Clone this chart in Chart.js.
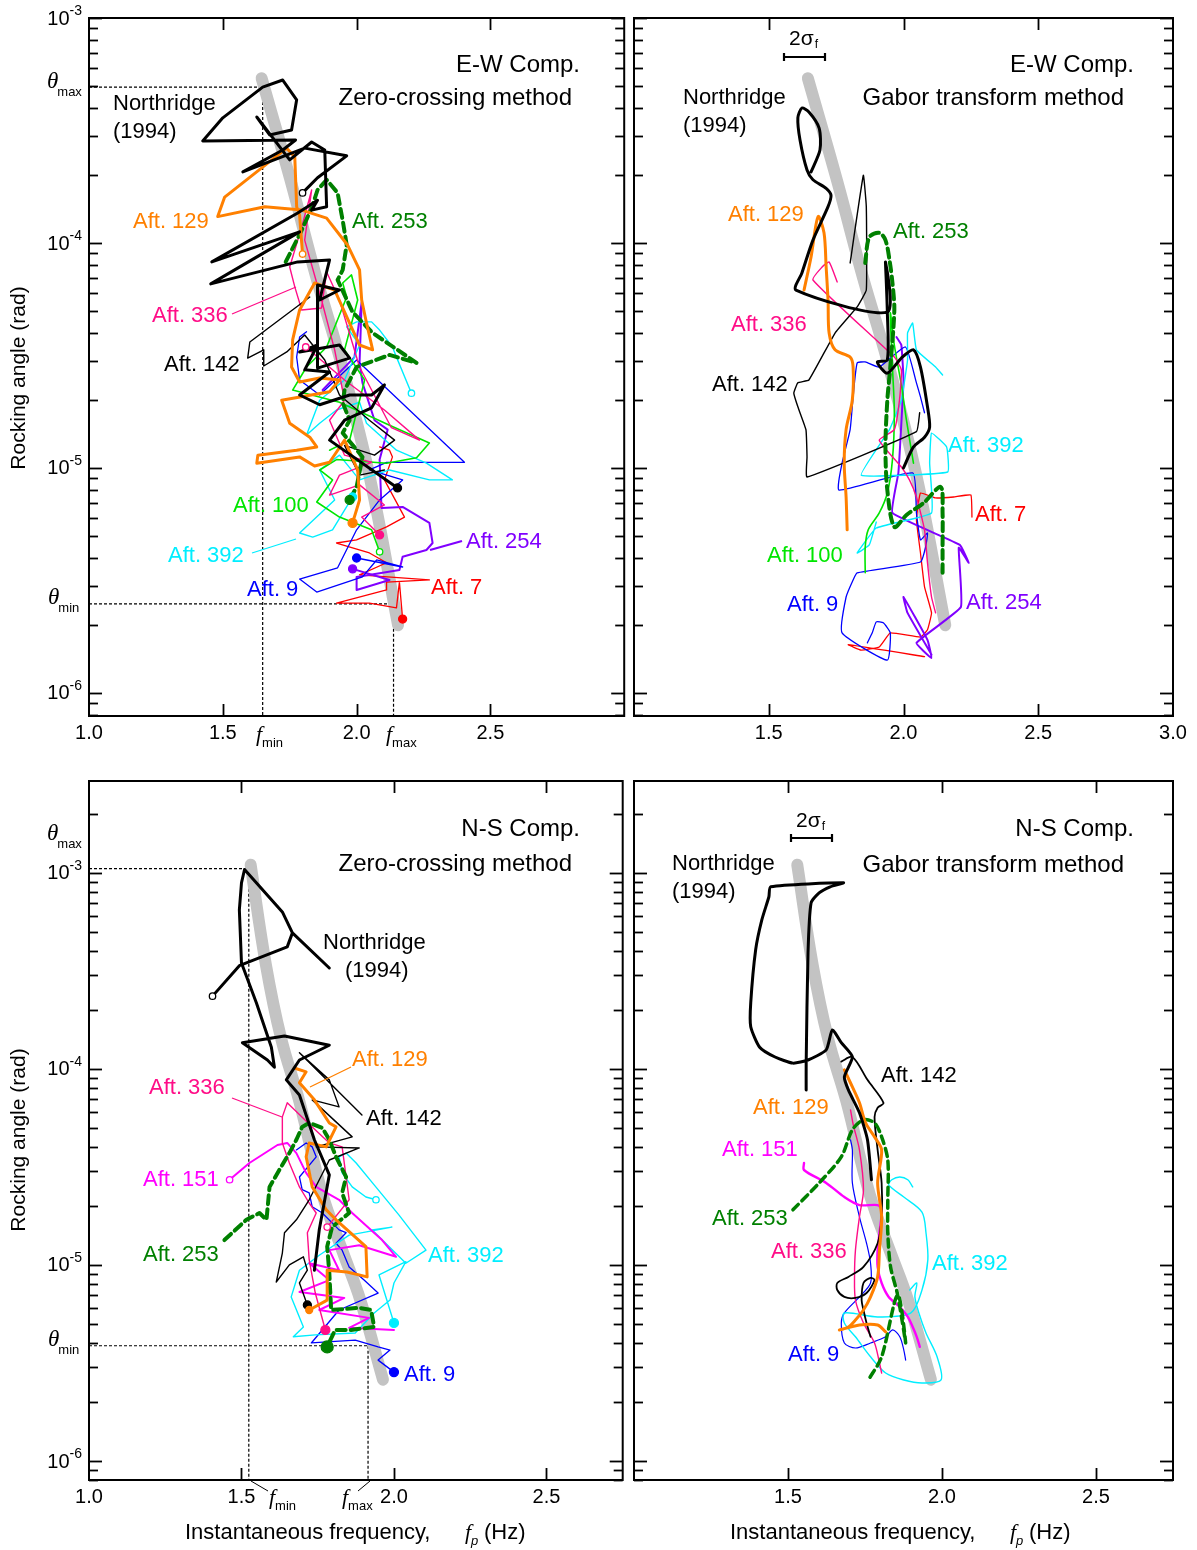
<!DOCTYPE html>
<html><head><meta charset="utf-8">
<script src="https://cdn.jsdelivr.net/npm/chart.js@4.4.0/dist/chart.umd.min.js"></script>
<style>
html,body{margin:0;padding:0;background:#fff;}
#wrap{position:relative;width:1197px;height:1550px;overflow:hidden;background:#fff;}
canvas{position:absolute;}
</style></head><body><div id="wrap">
<canvas id="c1" width="630" height="770" style="left:0px;top:0px;width:630px;height:770px"></canvas>
<canvas id="c2" width="567" height="770" style="left:630px;top:0px;width:567px;height:770px"></canvas>
<canvas id="c3" width="630" height="780" style="left:0px;top:770px;width:630px;height:780px"></canvas>
<canvas id="c4" width="567" height="780" style="left:630px;top:770px;width:567px;height:780px"></canvas>
</div>
<script>
// ===================== DATA (frequency Hz, rocking angle rad) =====================
const grayTop = [[1.645,5.4e-4],[1.75,1.96e-4],[1.85,7.0e-5],[1.94,3.0e-5],[2.05,9.0e-6],[2.155,2.0e-6]];
const grayBottom = [[1.53,1.1e-3],[1.58,3.4e-4],[1.63,1.43e-4],[1.69,6.8e-5],[1.765,2.3e-5],[1.83,1.19e-5],[1.89,6.6e-6],[1.964,2.6e-6]];

// E-W, zero-crossing
const ew_zc_northridge = [[1.798,1.67e-4],[1.854,1.95e-4],[1.963,2.44e-4],[1.806,2.64e-4],[1.575,2.07e-4],[1.724,2.59e-4],[1.772,2.87e-4],[1.425,2.84e-4],[1.5,3.6e-4],[1.649,4.93e-4],[1.724,5.3e-4],[1.776,4.33e-4],[1.757,3.18e-4],[1.675,3.02e-4],[1.627,3.63e-4],[1.75,2.34e-4],[1.832,2.81e-4],[1.881,2.59e-4],[1.888,1.45e-4],[1.832,1.4e-4],[1.854,1.55e-4],[1.78,1.36e-4],[1.459,8.24e-5],[1.787,1.12e-4],[1.455,6.58e-5],[1.78,8.24e-5],[1.899,8.41e-5],[1.862,5.58e-5],[1.936,6.18e-5],[1.854,6.5e-5],[1.854,2.78e-5],[1.974,3.08e-5],[1.936,3.52e-5],[1.787,3.28e-5],[1.854,3.52e-5],[1.806,2.73e-5],[1.899,2.67e-5],[1.787,2.11e-5],[1.862,1.91e-5],[1.974,2.11e-5],[2.056,2.11e-5],[2.104,2.34e-5],[2.056,1.85e-5],[1.955,1.63e-5],[1.899,1.33e-5],[2.153,8.15e-6]];
const ew_zc_a129 = [[1.798,8.93e-5],[1.787,1.33e-4],[1.776,1.45e-4],[1.769,2.41e-4],[1.739,2.64e-4],[1.507,1.6e-4],[1.481,1.31e-4],[1.657,1.45e-4],[1.795,1.4e-4],[1.888,1.29e-4],[1.966,9.8e-5],[2.011,7.59e-5],[2.019,5.58e-5],[2.037,4.41e-5],[2.06,3.35e-5],[2.011,3.52e-5],[1.918,6.18e-5],[1.843,6.64e-5],[1.787,5.04e-5],[1.761,3.71e-5],[1.757,2.81e-5],[1.787,2.41e-5],[1.862,2.51e-5],[1.936,2.46e-5],[1.899,2.18e-5],[1.72,2.0e-5],[1.75,1.58e-5],[1.825,1.37e-5],[1.851,1.24e-5],[1.776,1.2e-5],[1.631,1.14e-5],[1.627,1.05e-5],[1.787,1.12e-5],[1.843,1.02e-5],[1.899,1.06e-5],[1.955,1.33e-5],[2.004,9.8e-6],[2.011,7.21e-6],[1.985,5.7e-6]];
const ew_zc_a253 = [[1.735,8.24e-5],[1.787,1.09e-4],[1.832,1.43e-4],[1.854,1.72e-4],[1.888,1.91e-4],[1.929,1.67e-4],[1.948,1.26e-4],[1.963,9.8e-5],[1.948,7.59e-5],[1.929,6.85e-5],[1.985,4.93e-5],[2.06,3.98e-5],[2.153,3.35e-5],[2.224,2.93e-5],[2.123,3.18e-5],[2.0,2.81e-5],[1.955,2.22e-5],[1.948,1.95e-5],[1.974,1.63e-5],[1.948,1.43e-5],[2.022,1.12e-5],[2.0,8.24e-6],[1.974,7.21e-6]];
const ew_zc_a336 = [[1.81,3.45e-5],[1.955,2.46e-5],[2.104,1.81e-5],[2.235,1.33e-5],[2.13,1.51e-5],[2.011,2.81e-5],[1.936,5.58e-5],[1.888,7.43e-5],[1.869,5.14e-5],[1.795,5.04e-5],[1.769,6.38e-5],[1.75,7.82e-5],[1.795,1.18e-4],[1.832,1.72e-4],[1.806,1.03e-4],[1.869,5.58e-5],[1.918,3.35e-5],[1.955,2.0e-5],[1.899,1.63e-5],[1.955,1.14e-5],[2.056,1.06e-5],[1.936,9.3e-6],[1.899,7.58e-6],[2.011,8.41e-6],[2.104,6.85e-6],[2.019,6.05e-6],[2.086,5.04e-6]];
const ew_zc_a142 = [[1.825,5.75e-5],[1.601,3.63e-5],[1.593,3.08e-5],[1.653,3.35e-5],[1.653,2.84e-5],[1.739,3.28e-5],[1.806,3.9e-5],[1.881,3.02e-5],[1.936,2.11e-5],[2.048,1.63e-5],[2.142,1.33e-5],[2.067,1.14e-5],[1.955,1.26e-5],[2.011,9.3e-6],[2.104,9.8e-6]];
const ew_zc_a100 = [[2.086,4.24e-6],[2.056,5.31e-6],[1.936,6.05e-6],[1.851,7.06e-6],[1.91,8.85e-6],[1.862,9.8e-6],[1.925,1.09e-5],[2.112,1.05e-5],[2.224,1.11e-5],[2.272,1.29e-5],[2.123,1.55e-5],[1.936,1.96e-5],[1.761,2.22e-5],[1.813,2.81e-5],[1.888,3.45e-5],[1.963,5.75e-5],[1.948,6.64e-5],[1.981,7.21e-5],[2.004,5.58e-5],[1.955,3.35e-5],[2.03,2.46e-5],[1.974,1.33e-5],[1.899,1.2e-5]];
const ew_zc_a392 = [[2.205,2.15e-5],[2.149,3.11e-5],[2.134,3.45e-5],[2.086,4.1e-5],[2.056,4.46e-5],[2.0,4.46e-5],[1.963,4.24e-5],[2.011,3.52e-5],[1.955,2.46e-5],[1.862,2.0e-5],[1.813,1.4e-5],[1.862,1.58e-5],[1.925,1.81e-5],[2.011,1.96e-5],[2.037,1.58e-5],[2.149,1.2e-5],[2.261,1.05e-5],[2.358,8.85e-6],[2.272,8.85e-6],[2.123,9.8e-6],[2.011,8.85e-6],[1.936,1.14e-5],[1.862,9.8e-6],[1.918,7.21e-6],[1.787,5.14e-6],[1.836,4.93e-6],[1.91,5.31e-6],[1.955,6.5e-6],[1.985,7.43e-6]];
const ew_zc_a9 = [[1.813,4.03e-5],[1.787,3.82e-5],[1.776,3.11e-5],[1.787,2.46e-5],[1.862,2.11e-5],[2.0,3.02e-5],[2.403,1.06e-5],[2.112,1.06e-5],[2.048,9.8e-6],[2.172,8.85e-6],[2.086,7.21e-6],[2.0,5.31e-6],[1.929,3.6e-6],[1.787,3.21e-6],[1.851,2.81e-6],[2.022,3.28e-6],[2.075,3.9e-6],[2.172,3.63e-6],[2.0,3.98e-6]];
const ew_zc_a254 = [[1.873,2.22e-5],[1.992,3.11e-5],[2.019,5.47e-5],[2.011,2.93e-5],[2.022,2.39e-5],[2.067,1.63e-5],[2.116,1.48e-5],[2.086,1.09e-5],[2.093,6.64e-6],[2.172,6.71e-6],[2.272,5.7e-6],[2.284,4.64e-6],[2.261,4.32e-6],[2.172,4.03e-6],[2.16,3.52e-6],[2.0,3.28e-6],[2.0,2.87e-6],[2.123,3.18e-6],[1.985,3.56e-6]];
const ew_zc_a7 = [[2.086,1.24e-5],[2.123,1.2e-5],[2.134,1.12e-5],[2.104,8.85e-6],[2.179,6.05e-6],[2.112,5.47e-6],[2.0,4.79e-6],[1.925,4.64e-6],[2.048,4.19e-6],[2.112,3.79e-6],[2.011,3.35e-6],[2.272,3.18e-6],[2.112,3.11e-6],[2.112,2.87e-6],[1.925,2.51e-6],[2.048,2.51e-6],[2.149,2.39e-6],[2.16,3.11e-6],[2.172,2.13e-6]];

// E-W, Gabor transform
const ew_gb_northridge = [[2.0,1.0e-5],[2.037,1.24e-5],[2.078,1.37e-5],[2.097,1.52e-5],[2.089,1.87e-5],[2.063,2.81e-5],[2.037,3.35e-5],[1.992,3.08e-5],[1.94,2.64e-5],[1.903,2.96e-5],[1.94,3.02e-5],[1.94,4.93e-5],[1.933,8.24e-5],[1.94,4.93e-5],[1.601,6.18e-5],[1.623,7.36e-5],[1.664,1.03e-4],[1.72,1.45e-4],[1.731,1.63e-4],[1.713,1.75e-4],[1.664,1.91e-4],[1.642,2.11e-4],[1.616,2.87e-4],[1.608,3.6e-4],[1.623,3.98e-4],[1.649,3.82e-4],[1.687,3.24e-4],[1.69,2.59e-4],[1.657,2.07e-4]];
const ew_gb_a142 = [[1.802,8.15e-5],[1.851,2.0e-4],[1.862,1.45e-4],[1.862,6.18e-5],[1.828,5.2e-5],[1.746,3.98e-5],[1.649,2.46e-5],[1.608,2.39e-5],[1.593,2.15e-5],[1.608,1.87e-5],[1.638,1.48e-5],[1.642,1.12e-5],[1.642,9.12e-6],[2.048,1.45e-5],[2.06,1.76e-5]];
const ew_gb_a129 = [[1.631,6.18e-5],[1.657,8.67e-5],[1.683,1.31e-4],[1.705,1.11e-4],[1.713,7.82e-5],[1.72,5.58e-5],[1.724,3.98e-5],[1.746,3.35e-5],[1.802,3.11e-5],[1.813,2.81e-5],[1.81,2.0e-5],[1.787,1.48e-5],[1.78,1.05e-5],[1.787,7.43e-6],[1.791,5.31e-6]];
const ew_gb_a253 = [[1.858,8.15e-5],[1.873,1.06e-4],[1.91,1.11e-4],[1.933,1.03e-4],[1.948,8.41e-5],[1.959,6.64e-5],[1.966,5.04e-5],[1.951,2.81e-5],[1.94,2.0e-5],[1.933,1.24e-5],[1.94,7.98e-6],[1.966,5.47e-6],[2.011,6.18e-6],[2.075,7.0e-6],[2.138,8.24e-6],[2.145,6.31e-6],[2.145,4.46e-6],[2.145,3.42e-6]];
const ew_gb_a336 = [[1.754,6.71e-5],[1.724,8.24e-5],[1.698,7.82e-5],[1.664,6.85e-5],[1.966,3.11e-5],[1.992,2.73e-5],[1.985,2.0e-5],[1.966,1.48e-5],[1.91,1.33e-5],[1.992,1.01e-5],[2.022,8.85e-6],[2.048,7.43e-6],[2.078,5.31e-6],[2.089,3.79e-6],[2.104,2.67e-6],[2.119,2.27e-6]];
const ew_gb_a100 = [[2.037,1.05e-5],[2.011,1.63e-5],[1.992,2.34e-5],[1.966,3.52e-5],[1.951,4.89e-5],[1.959,2.81e-5],[1.966,1.76e-5],[1.959,1.09e-5],[1.94,7.74e-6],[1.91,6.31e-6],[1.869,5.31e-6],[1.858,4.46e-6],[1.858,3.42e-6]];
const ew_gb_a392 = [[2.145,2.59e-5],[2.119,2.81e-5],[2.048,3.35e-5],[2.034,4.41e-5],[2.015,3.98e-5],[2.015,3.02e-5],[1.992,2.0e-5],[1.948,1.48e-5],[1.843,9.3e-6],[2.164,9.6e-6],[2.16,1.24e-5],[2.104,1.43e-5],[2.097,1.05e-5],[2.104,6.31e-6],[1.899,5.41e-6],[1.828,4.19e-6],[1.873,4.55e-6],[1.899,5.75e-6]];
const ew_gb_a9 = [[2.078,1.76e-5],[2.063,2.07e-5],[2.048,2.39e-5],[2.007,3.45e-5],[1.91,2.81e-5],[1.858,2.96e-5],[1.828,2.93e-5],[1.813,2.07e-5],[1.802,1.48e-5],[1.772,1.05e-5],[1.761,7.98e-6],[2.034,9.5e-6],[2.048,6.31e-6],[2.063,4.79e-6],[2.089,5.14e-6],[2.082,4.46e-6],[2.063,3.82e-6],[1.828,3.42e-6],[1.813,3.18e-6],[1.787,2.67e-6],[1.772,1.85e-6],[1.94,1.4e-6],[1.951,1.85e-6],[1.925,2.05e-6],[1.899,2.07e-6],[1.884,1.85e-6],[1.866,1.67e-6]];
const ew_gb_a254 = [[1.974,3.82e-5],[1.992,3.52e-5],[2.0,2.46e-5],[1.992,1.58e-5],[1.981,9.5e-6],[1.959,6.31e-6],[2.209,4.55e-6],[2.242,3.79e-6],[2.205,4.42e-6],[2.213,2.41e-6],[2.048,1.67e-6],[2.104,1.43e-6],[2.089,1.72e-6],[2.0,2.67e-6],[2.015,2.27e-6],[2.104,1.48e-6]];
const ew_gb_a7 = [[2.254,6.05e-6],[2.25,7.58e-6],[2.186,7.43e-6],[2.119,7.36e-6],[2.063,7.74e-6],[2.048,5.88e-6],[2.063,4.19e-6],[2.078,2.96e-6],[2.104,2.27e-6],[2.089,1.91e-6],[2.063,1.77e-6],[1.951,1.85e-6],[1.91,1.6e-6],[1.843,1.55e-6],[1.795,1.64e-6],[2.078,1.45e-6]];

// N-S, zero-crossing
const ns_zc_northridge = [[1.405,2.35e-4],[1.493,3.36e-4],[1.65,4.19e-4],[1.667,4.94e-4],[1.788,3.27e-4],[1.667,4.94e-4],[1.634,6.32e-4],[1.51,1.04e-3],[1.5,8.89e-4],[1.493,6.47e-4],[1.5,3.47e-4],[1.549,2.17e-4],[1.598,1.29e-4],[1.608,1.02e-4],[1.585,1.11e-4],[1.503,1.36e-4],[1.641,1.47e-4],[1.788,1.32e-4],[1.69,1.11e-4],[1.647,8.79e-5],[1.69,7.36e-5],[1.739,4.35e-5],[1.788,2.88e-5],[1.755,1.51e-5],[1.739,9.4e-6]];
const ns_zc_a142 = [[1.895,5.82e-5],[1.69,1.21e-4],[1.788,8.79e-5],[1.82,6.4e-5],[1.732,6.95e-5],[1.863,4.5e-5],[1.745,4.0e-5],[1.886,3.95e-5],[1.788,3.43e-5],[1.722,2.15e-5],[1.68,1.7e-5],[1.641,1.46e-5],[1.634,1.15e-5],[1.614,8.18e-6],[1.657,1.0e-5],[1.703,1.1e-5],[1.716,9.4e-6],[1.69,8.09e-6],[1.716,6.25e-6]];
const ns_zc_a129 = [[1.673,1.01e-4],[1.712,9.66e-5],[1.69,8.49e-5],[1.739,6.95e-5],[1.788,5.3e-5],[1.81,5.06e-5],[1.778,4.0e-5],[1.722,4.19e-5],[1.712,3.56e-5],[1.732,2.5e-5],[1.778,1.91e-5],[1.81,1.7e-5],[1.908,1.24e-5],[1.912,8.69e-6],[1.846,9.2e-6],[1.781,9.4e-6],[1.781,6.62e-6],[1.722,5.89e-6]];
const ns_zc_a253 = [[1.444,1.34e-5],[1.516,1.7e-5],[1.559,1.84e-5],[1.582,1.7e-5],[1.592,2.5e-5],[1.624,3.05e-5],[1.657,3.72e-5],[1.68,4.35e-5],[1.699,5.06e-5],[1.722,5.3e-5],[1.765,5.0e-5],[1.788,4.35e-5],[1.81,3.56e-5],[1.843,2.81e-5],[1.83,2.33e-5],[1.853,1.84e-5],[1.797,1.56e-5],[1.781,1.24e-5],[1.788,9.1e-6],[1.794,5.89e-6],[1.886,6.04e-6],[1.925,5.89e-6],[1.935,4.83e-6],[1.859,4.66e-6],[1.807,4.66e-6],[1.781,3.82e-6]];
const ns_zc_a336 = [[1.781,1.56e-5],[1.853,2.15e-5],[1.83,4.0e-5],[1.788,4.19e-5],[1.732,5.06e-5],[1.65,6.71e-5],[1.634,5.69e-5],[1.634,4.19e-5],[1.657,3.31e-5],[1.69,2.5e-5],[1.722,2.07e-5],[1.745,1.84e-5],[1.716,1.46e-5],[1.722,1.06e-5],[1.742,7.19e-6],[1.775,4.66e-6]];
const ns_zc_a151 = [[1.461,2.72e-5],[1.526,3.31e-5],[1.618,4.09e-5],[1.65,4.19e-5],[1.68,3.72e-5],[1.712,2.95e-5],[1.745,2.5e-5],[1.82,2.15e-5],[1.863,1.84e-5],[1.961,1.34e-5],[2.007,1.1e-5],[1.886,1.26e-5],[1.788,1.19e-5],[1.82,9.4e-6],[1.722,1.02e-5],[1.788,8.37e-6],[1.69,7.28e-6],[1.837,6.79e-6],[1.755,5.89e-6],[1.918,5.37e-6],[1.853,4.78e-6],[2.0,4.66e-6]];
const ns_zc_a392 = [[1.941,2.15e-5],[1.908,2.22e-5],[1.863,2.5e-5],[1.83,2.95e-5],[1.82,3.56e-5],[1.843,3.72e-5],[1.876,3.31e-5],[1.935,2.56e-5],[2.016,1.8e-5],[2.105,1.19e-5],[2.039,1.02e-5],[1.928,1.51e-5],[1.993,1.56e-5],[1.853,1.42e-5],[1.755,1.12e-5],[1.69,9.4e-6],[1.663,6.87e-6],[1.703,4.83e-6],[1.67,4.3e-6],[1.742,4.4e-6],[1.873,4.5e-6],[1.935,5.69e-6],[1.987,6.62e-6],[2.0,8.09e-6],[2.039,1.04e-5],[1.951,8.89e-6],[2.0,5.06e-6]];
const ns_zc_a9 = [[1.68,3.86e-5],[1.712,4.19e-5],[1.732,4.0e-5],[1.745,3.56e-5],[1.69,2.81e-5],[1.699,2.42e-5],[1.722,2.33e-5],[1.732,1.98e-5],[1.765,1.84e-5],[1.82,1.51e-5],[1.843,1.46e-5],[1.81,1.29e-5],[1.83,1.19e-5],[1.853,9.77e-6],[1.902,8.37e-6],[1.948,7.19e-6],[1.82,5.89e-6],[1.729,4.0e-6],[1.873,4.14e-6],[1.948,3.82e-6],[1.987,3.68e-6],[1.948,3.27e-6],[2.0,2.84e-6]];

// N-S, Gabor transform
const ns_gb_northridge = [[1.559,7.81e-5],[1.559,1.07e-4],[1.565,3.91e-4],[1.575,7.03e-4],[1.601,7.9e-4],[1.637,8.49e-4],[1.68,8.89e-4],[1.444,8.49e-4],[1.438,7.55e-4],[1.415,5.75e-4],[1.395,4.05e-4],[1.379,2.17e-4],[1.379,1.64e-4],[1.408,1.29e-4],[1.458,1.15e-4],[1.516,1.07e-4],[1.565,1.11e-4],[1.624,1.25e-4],[1.644,1.58e-4],[1.673,1.36e-4],[1.709,1.15e-4],[1.683,9.1e-5],[1.696,7.81e-5],[1.732,5.97e-5],[1.758,4.35e-5],[1.771,2.72e-5]];
const ns_gb_a142 = [[1.673,1.09e-4],[1.709,1.15e-4],[1.758,8.79e-5],[1.81,6.71e-5],[1.791,6.33e-5],[1.781,5.69e-5],[1.791,3.86e-5],[1.804,2.62e-5],[1.804,1.76e-5],[1.791,1.29e-5],[1.745,9.77e-6],[1.696,8.69e-6],[1.66,8.09e-6],[1.66,7.45e-6],[1.683,6.87e-6],[1.719,6.79e-6],[1.755,7.19e-6],[1.781,8.37e-6],[1.768,8.59e-6],[1.745,8.09e-6],[1.739,6.62e-6],[1.745,5.89e-6],[1.755,5.06e-6],[1.768,4.3e-6]];
const ns_gb_a129 = [[1.683,9.88e-5],[1.709,8.09e-5],[1.732,6.71e-5],[1.752,5.3e-5],[1.781,4.5e-5],[1.804,3.86e-5],[1.791,2.62e-5],[1.804,1.76e-5],[1.797,1.19e-5],[1.791,8.69e-6],[1.768,6.87e-6],[1.745,5.89e-6],[1.719,5.24e-6],[1.696,4.83e-6],[1.667,4.66e-6],[1.732,4.94e-6],[1.791,4.94e-6],[1.817,4.55e-6]];
const ns_gb_a253 = [[1.516,1.91e-5],[1.601,2.62e-5],[1.673,3.56e-5],[1.709,4.89e-5],[1.745,5.5e-5],[1.781,5.3e-5],[1.804,4.5e-5],[1.824,3.43e-5],[1.824,2.15e-5],[1.824,1.46e-5],[1.833,9.77e-6],[1.856,7.03e-6],[1.882,4.0e-6],[1.856,7.03e-6],[1.804,3.4e-6],[1.761,2.59e-6]];
const ns_gb_a336 = [[1.703,6.18e-5],[1.712,5.18e-5],[1.732,3.86e-5],[1.745,2.42e-5],[1.732,1.76e-5],[1.719,1.19e-5],[1.716,8.69e-6],[1.719,6.62e-6],[1.745,5.06e-6],[1.781,4.0e-6],[1.797,3.16e-6],[1.804,2.81e-6]];
const ns_gb_a151 = [[1.552,3.31e-5],[1.552,3.05e-5],[1.624,2.62e-5],[1.683,2.22e-5],[1.732,2.02e-5],[1.791,2.02e-5],[1.804,1.91e-5],[1.797,1.46e-5],[1.791,1.19e-5],[1.791,9.77e-6],[1.804,8.09e-6],[1.827,6.87e-6],[1.863,6.11e-6],[1.889,5.43e-6],[1.905,4.83e-6],[1.918,4.3e-6],[1.928,3.82e-6]];
const ns_gb_a392 = [[1.905,2.5e-5],[1.889,2.72e-5],[1.863,2.81e-5],[1.837,2.72e-5],[1.827,2.56e-5],[1.876,2.22e-5],[1.935,1.86e-5],[1.948,1.46e-5],[1.954,1.06e-5],[1.935,7.45e-6],[1.899,5.69e-6],[1.791,5.43e-6],[1.683,5.69e-6],[1.683,5.06e-6],[1.719,4.3e-6],[1.768,3.4e-6],[1.817,2.81e-6],[1.876,2.59e-6],[1.935,2.5e-6],[1.997,2.59e-6],[1.984,3.4e-6],[1.948,4.5e-6],[1.925,5.69e-6],[1.912,6.87e-6],[1.918,8.09e-6],[1.895,7.45e-6]];
const ns_gb_a9 = [[1.703,4.35e-5],[1.709,3.86e-5],[1.709,2.62e-5],[1.732,1.76e-5],[1.755,1.29e-5],[1.768,1.02e-5],[1.768,8.09e-6],[1.732,6.87e-6],[1.683,5.69e-6],[1.673,5.06e-6],[1.683,4.0e-6],[1.719,3.77e-6],[1.768,4.0e-6],[1.817,4.3e-6],[1.84,4.66e-6],[1.863,4.3e-6],[1.876,3.68e-6],[1.882,3.27e-6]];

// guide values (theta_max/min, f_min/max)
const ew_zc_guides = {thetaMax:4.93e-4, thetaMin:2.49e-6, fMin:1.649, fMax:2.138};
const ns_zc_guides = {thetaMax:1.05e-3, thetaMin:3.87e-6, fMin:1.524, fMax:1.915};

// tick labels
const xTickLabelsLeft = ['1.0','1.5','2.0','2.5'];
const xTickLabelsTopRight = ['1.5','2.0','2.5','3.0'];
const xTickLabelsBottomRight = ['1.5','2.0','2.5'];
const yDecades = [-3,-4,-5,-6];

// ===================== STYLE =====================
const SANS='"Liberation Sans", Arial, Helvetica, sans-serif';
const SERIF='"Liberation Serif", "Times New Roman", serif';
const C = {black:'#000000', orange:'#ff8000', dgreen:'#008000', pink:'#ff0d87', lime:'#00e600', cyan:'#00eeff', blue:'#0000ff', purple:'#8000ff', red:'#ff0000', magenta:'#ff00ff', gray:'#c3c3c3'};

function lineDS(pts, color, width, tension, dash, order){
  return {data: pts.map(p=>({x:p[0], y:p[1]})), showLine:true, borderColor:color, borderWidth:width,
    pointRadius:0, pointHoverRadius:0, fill:false, tension:tension||0, borderDash:dash||[],
    borderJoinStyle:'round', borderCapStyle: 'round', order: order===undefined?1:order};
}
function markDS(p, color, filled, r){
  return {data:[{x:p[0], y:p[1]}], showLine:false, pointRadius:r, pointHoverRadius:r,
    pointBackgroundColor: filled?color:'#ffffff', pointBorderColor:color, pointBorderWidth:1.3, order:0};
}
function buildDatasets(gray, series, tension){
  const ds=[lineDS(gray, C.gray, 12, 0.4, [], 10)];
  series.forEach(s=>ds.push(lineDS(s.d, s.c, s.w, s.t!==undefined?s.t:tension, s.dash, 1)));
  series.forEach(s=>{
    if(s.start) ds.push(markDS(s.d[0], s.c, false, 3.2));
    if(s.end) ds.push(markDS(s.d[s.d.length-1], s.c, true, s.endR||4));
  });
  return ds;
}

function L(ctx,a,b,c,d){ctx.beginPath();ctx.moveTo(a,b);ctx.lineTo(c,d);ctx.stroke();}

function makePlugin(cfg){
  return {
    id:'panel_'+cfg.id,
    beforeDatasetsDraw(chart){
      const g=cfg.guides; if(!g) return;
      const {ctx, scales:{x,y}}=chart;
      const X=v=>x.getPixelForValue(v), Y=v=>y.getPixelForValue(v);
      ctx.save(); ctx.strokeStyle='#000'; ctx.lineWidth=1.2; ctx.setLineDash([3,2]);
      L(ctx,X(x.min),Y(g.thetaMax),X(g.fMin),Y(g.thetaMax));
      L(ctx,X(g.fMin),Y(g.thetaMax),X(g.fMin),Y(y.min));
      L(ctx,X(x.min),Y(g.thetaMin),X(g.fMax),Y(g.thetaMin));
      L(ctx,X(g.fMax),Y(g.thetaMin),X(g.fMax),Y(y.min));
      ctx.restore();
    },
    afterDraw(chart){
      const {ctx, chartArea:a, scales:{x,y}}=chart;
      const ox=cfg.ox, oy=cfg.oy;
      ctx.save();
      ctx.strokeStyle='#000'; ctx.lineWidth=2; ctx.setLineDash([]);
      ctx.strokeRect(a.left, a.top, a.right-a.left, a.bottom-a.top);
      ctx.lineWidth=1.8;
      for(let ex=-7; ex<=-2; ex++){
        for(let k=1;k<=9;k++){
          const v=k*Math.pow(10,ex);
          if(v<y.min*0.999||v>y.max*1.001) continue;
          const py=Math.round(y.getPixelForValue(v))+0.5;
          const len=k===1?13:9;
          L(ctx,a.left,py,a.left+len,py); L(ctx,a.right,py,a.right-len,py);
        }
      }
      [1.5,2.0,2.5].forEach(v=>{
        if(v>=x.max) return;
        const px=Math.round(x.getPixelForValue(v))+0.5;
        L(ctx,px,a.top,px,a.top+12); L(ctx,px,a.bottom,px,a.bottom-12);
      });
      ctx.fillStyle='#000'; ctx.font='20px '+SANS; ctx.textAlign='center'; ctx.textBaseline='middle';
      cfg.xLabels.forEach(t=>{ ctx.fillText(t, x.getPixelForValue(parseFloat(t)), a.bottom+17); });
      if(cfg.yLabels){
        yDecades.forEach(ex=>{
          const v=Math.pow(10,ex); if(v<y.min||v>y.max*1.001) return;
          const py=y.getPixelForValue(v);
          ctx.font='14px '+SANS; ctx.textAlign='right';
          const es=String(ex); const ew=ctx.measureText(es).width;
          ctx.fillText(es, a.left-7, py-7);
          ctx.font='20px '+SANS;
          ctx.fillText('10', a.left-7-ew, py+1);
        });
      }
      (cfg.leaders||[]).forEach(l=>{ ctx.strokeStyle=l.c; ctx.lineWidth=l.w||1.3; L(ctx,l.x1-ox,l.y1-oy,l.x2-ox,l.y2-oy); });
      if(cfg.bar){ const b=cfg.bar; ctx.strokeStyle='#000'; ctx.lineWidth=2.2;
        L(ctx,b.x1-ox,b.y-oy,b.x2-ox,b.y-oy); L(ctx,b.x1-ox,b.y-oy-4,b.x1-ox,b.y-oy+4); L(ctx,b.x2-ox,b.y-oy-4,b.x2-ox,b.y-oy+4); }
      (cfg.texts||[]).forEach(it=>{
        const tx=it.x-ox, ty=it.y-oy;
        ctx.fillStyle=it.c||'#000'; ctx.textBaseline='middle';
        if(it.rot){
          ctx.save(); ctx.translate(tx,ty); ctx.rotate(-Math.PI/2);
          ctx.font=(it.f||'21px')+' '+SANS; ctx.textAlign='center'; ctx.fillText(it.t,0,0); ctx.restore();
        } else if(it.sub!==undefined){
          ctx.font=it.mf; ctx.textAlign='left'; ctx.fillText(it.t,tx,ty);
          const w=ctx.measureText(it.t).width;
          ctx.font=it.sf; ctx.fillText(it.sub, tx+w+(it.dx||0), ty+(it.dy===undefined?8:it.dy));
        } else {
          ctx.font=(it.f||'22px')+' '+SANS; ctx.textAlign=it.a||'left'; ctx.fillText(it.t,tx,ty);
        }
      });
      ctx.restore();
    }
  };
}

const thetaF = {mf:'italic 23px '+SERIF, sf:'13px '+SANS, dy:10, dx:-1};
const fF = {mf:'italic 22px '+SERIF, sf:'13px '+SANS, dy:8, dx:0};
const sigF = {mf:'21px '+SANS, sf:'12px '+SANS, dy:6, dx:1};
const fpF = {mf:'italic 22px '+SERIF, sf:'italic 13px '+SANS, dy:8, dx:0};

function makeChart(id, cfg){
  new Chart(document.getElementById(id), {
    type:'scatter',
    data:{datasets: cfg.datasets},
    options:{
      responsive:false, animation:false, devicePixelRatio:1, events:[],
      layout:{padding:cfg.pad},
      plugins:{legend:{display:false}, tooltip:{enabled:false}},
      scales:{
        x:{type:'linear', min:cfg.xmin, max:cfg.xmax, display:false},
        y:{type:'logarithmic', min:cfg.ymin, max:cfg.ymax, display:false}
      }
    },
    plugins:[makePlugin(cfg)]
  });
}

// ===================== PANEL 1 : E-W zero-crossing =====================
makeChart('c1', {
  id:1, ox:0, oy:0, pad:{left:89, top:18, right:4, bottom:54},
  xmin:1.0, xmax:3.0, ymin:7.9e-7, ymax:1e-3, xLabels:xTickLabelsLeft, yLabels:true,
  guides: ew_zc_guides,
  datasets: buildDatasets(grayTop, [
    {d:ew_zc_northridge, c:C.black, w:3, start:'open', end:true, endR:4},
    {d:ew_zc_a129, c:C.orange, w:3, start:'open', end:true, endR:4.5},
    {d:ew_zc_a253, c:C.dgreen, w:4, dash:[9,5], end:true, endR:4.5},
    {d:ew_zc_a142, c:C.black, w:1.4},
    {d:ew_zc_a336, c:C.pink, w:1.4, start:'open', end:true},
    {d:ew_zc_a100, c:C.lime, w:1.6, start:'open'},
    {d:ew_zc_a392, c:C.cyan, w:1.4, start:'open', end:true},
    {d:ew_zc_a9, c:C.blue, w:1.3, end:true},
    {d:ew_zc_a254, c:C.purple, w:2, end:true},
    {d:ew_zc_a7, c:C.red, w:1.3, end:true}
  ], 0),
  leaders:[
    {x1:232,y1:314,x2:296,y2:287,c:C.pink},
    {x1:252,y1:553,x2:296,y2:539,c:C.cyan},
    {x1:462,y1:541,x2:430,y2:550,c:C.purple,w:2.2}
  ],
  texts:[
    {t:'E-W Comp.', x:580, y:65, a:'right', f:'24px'},
    {t:'Zero-crossing method', x:572, y:98, a:'right', f:'24px'},
    {t:'Northridge', x:113, y:104}, {t:'(1994)', x:113, y:132},
    {t:'Aft. 129', x:133, y:222, c:C.orange},
    {t:'Aft. 253', x:352, y:222, c:C.dgreen},
    {t:'Aft. 336', x:152, y:316, c:C.pink},
    {t:'Aft. 142', x:164, y:365},
    {t:'Aft. 100', x:233, y:506, c:C.lime},
    {t:'Aft. 392', x:168, y:556, c:C.cyan},
    {t:'Aft. 254', x:466, y:542, c:C.purple},
    {t:'Aft. 9', x:247, y:590, c:C.blue},
    {t:'Aft. 7', x:431, y:588, c:C.red},
    Object.assign({t:'θ', sub:'max', x:47, y:82}, thetaF),
    Object.assign({t:'θ', sub:'min', x:48, y:598}, thetaF),
    Object.assign({t:'f', sub:'min', x:256, y:735}, fF),
    Object.assign({t:'f', sub:'max', x:386, y:735}, fF),
    {t:'Rocking angle (rad)', x:19, y:378, rot:true}
  ]
});

// ===================== PANEL 2 : E-W Gabor =====================
makeChart('c2', {
  id:2, ox:630, oy:0, pad:{left:4, top:18, right:24, bottom:54},
  xmin:1.0, xmax:3.0, ymin:7.9e-7, ymax:1e-3, xLabels:xTickLabelsTopRight, yLabels:false,
  datasets: buildDatasets(grayTop, [
    {d:ew_gb_northridge, c:C.black, w:3, t:0.25},
    {d:ew_gb_a129, c:C.orange, w:3},
    {d:ew_gb_a253, c:C.dgreen, w:4, dash:[9,5]},
    {d:ew_gb_a142, c:C.black, w:1.4, t:0.1},
    {d:ew_gb_a336, c:C.pink, w:1.4, t:0.15},
    {d:ew_gb_a100, c:C.lime, w:1.6},
    {d:ew_gb_a392, c:C.cyan, w:1.4, t:0.1},
    {d:ew_gb_a9, c:C.blue, w:1.3, t:0.15},
    {d:ew_gb_a254, c:C.purple, w:2, t:0.1},
    {d:ew_gb_a7, c:C.red, w:1.3, t:0.1}
  ], 0.3),
  bar:{x1:784, x2:825, y:57},
  texts:[
    {t:'E-W Comp.', x:1134, y:65, a:'right', f:'24px'},
    {t:'Gabor transform method', x:1124, y:98, a:'right', f:'24px'},
    {t:'Northridge', x:683, y:98}, {t:'(1994)', x:683, y:126},
    {t:'Aft. 129', x:728, y:215, c:C.orange},
    {t:'Aft. 253', x:893, y:232, c:C.dgreen},
    {t:'Aft. 336', x:731, y:325, c:C.pink},
    {t:'Aft. 142', x:712, y:385},
    {t:'Aft. 392', x:948, y:446, c:C.cyan},
    {t:'Aft. 7', x:975, y:515, c:C.red},
    {t:'Aft. 100', x:767, y:556, c:C.lime},
    {t:'Aft. 9', x:787, y:605, c:C.blue},
    {t:'Aft. 254', x:966, y:603, c:C.purple},
    Object.assign({t:'2σ', sub:'f', x:789, y:39}, sigF)
  ]
});

// ===================== PANEL 3 : N-S zero-crossing =====================
makeChart('c3', {
  id:3, ox:0, oy:770, pad:{left:89, top:11, right:4, bottom:70},
  xmin:1.0, xmax:2.75, ymin:8.0e-7, ymax:2.94e-3, xLabels:xTickLabelsLeft, yLabels:true,
  guides: ns_zc_guides,
  datasets: buildDatasets(grayBottom, [
    {d:ns_zc_northridge, c:C.black, w:3, start:'open'},
    {d:ns_zc_a129, c:C.orange, w:3, end:true, endR:3.5},
    {d:ns_zc_a253, c:C.dgreen, w:4, dash:[9,5], end:true, endR:6},
    {d:ns_zc_a142, c:C.black, w:1.4, end:true, endR:4},
    {d:ns_zc_a336, c:C.pink, w:1.4, start:'open', end:true, endR:4.5},
    {d:ns_zc_a151, c:C.magenta, w:2, start:'open'},
    {d:ns_zc_a392, c:C.cyan, w:1.4, start:'open', end:true, endR:4.5},
    {d:ns_zc_a9, c:C.blue, w:1.3, end:true, endR:4.5}
  ], 0),
  leaders:[
    {x1:232,y1:1098,x2:282,y2:1117,c:C.pink},
    {x1:351,y1:1067,x2:310,y2:1087,c:C.orange},
    {x1:251,y1:1481,x2:268,y2:1491,c:'#000',w:1},
    {x1:370,y1:1481,x2:358,y2:1491,c:'#000',w:1}
  ],
  texts:[
    {t:'N-S Comp.', x:580, y:829, a:'right', f:'24px'},
    {t:'Zero-crossing method', x:572, y:864, a:'right', f:'24px'},
    {t:'Northridge', x:323, y:943}, {t:'(1994)', x:345, y:971},
    {t:'Aft. 129', x:352, y:1060, c:C.orange},
    {t:'Aft. 336', x:149, y:1088, c:C.pink},
    {t:'Aft. 142', x:366, y:1119},
    {t:'Aft. 151', x:143, y:1180, c:C.magenta},
    {t:'Aft. 253', x:143, y:1255, c:C.dgreen},
    {t:'Aft. 392', x:428, y:1256, c:C.cyan},
    {t:'Aft. 9', x:404, y:1375, c:C.blue},
    Object.assign({t:'θ', sub:'max', x:47, y:834}, thetaF),
    Object.assign({t:'θ', sub:'min', x:48, y:1340}, thetaF),
    Object.assign({t:'f', sub:'min', x:269, y:1498}, fF),
    Object.assign({t:'f', sub:'max', x:342, y:1498}, fF),
    {t:'Rocking angle (rad)', x:19, y:1140, rot:true},
    {t:'Instantaneous frequency,', x:185, y:1533},
    Object.assign({t:'f', sub:'p', x:465, y:1533}, fpF),
    {t:'(Hz)', x:484, y:1533}
  ]
});

// ===================== PANEL 4 : N-S Gabor =====================
makeChart('c4', {
  id:4, ox:630, oy:770, pad:{left:4, top:11, right:24, bottom:70},
  xmin:1.0, xmax:2.75, ymin:8.0e-7, ymax:2.94e-3, xLabels:xTickLabelsBottomRight, yLabels:false,
  datasets: buildDatasets(grayBottom, [
    {d:ns_gb_northridge, c:C.black, w:3, t:0.2},
    {d:ns_gb_a129, c:C.orange, w:3},
    {d:ns_gb_a253, c:C.dgreen, w:3.5, dash:[8,5]},
    {d:ns_gb_a142, c:C.black, w:1.8},
    {d:ns_gb_a336, c:C.pink, w:1.4},
    {d:ns_gb_a151, c:C.magenta, w:2.4},
    {d:ns_gb_a392, c:C.cyan, w:1.4},
    {d:ns_gb_a9, c:C.blue, w:1.2}
  ], 0.3),
  bar:{x1:791, x2:832, y:838},
  texts:[
    {t:'N-S Comp.', x:1134, y:829, a:'right', f:'24px'},
    {t:'Gabor transform method', x:1124, y:865, a:'right', f:'24px'},
    {t:'Northridge', x:672, y:864}, {t:'(1994)', x:672, y:892},
    {t:'Aft. 142', x:881, y:1076},
    {t:'Aft. 129', x:753, y:1108, c:C.orange},
    {t:'Aft. 151', x:722, y:1150, c:C.magenta},
    {t:'Aft. 253', x:712, y:1219, c:C.dgreen},
    {t:'Aft. 336', x:771, y:1252, c:C.pink},
    {t:'Aft. 392', x:932, y:1264, c:C.cyan},
    {t:'Aft. 9', x:788, y:1355, c:C.blue},
    Object.assign({t:'2σ', sub:'f', x:796, y:821}, sigF),
    {t:'Instantaneous frequency,', x:730, y:1533},
    Object.assign({t:'f', sub:'p', x:1010, y:1533}, fpF),
    {t:'(Hz)', x:1029, y:1533}
  ]
});
</script>
</body></html>
